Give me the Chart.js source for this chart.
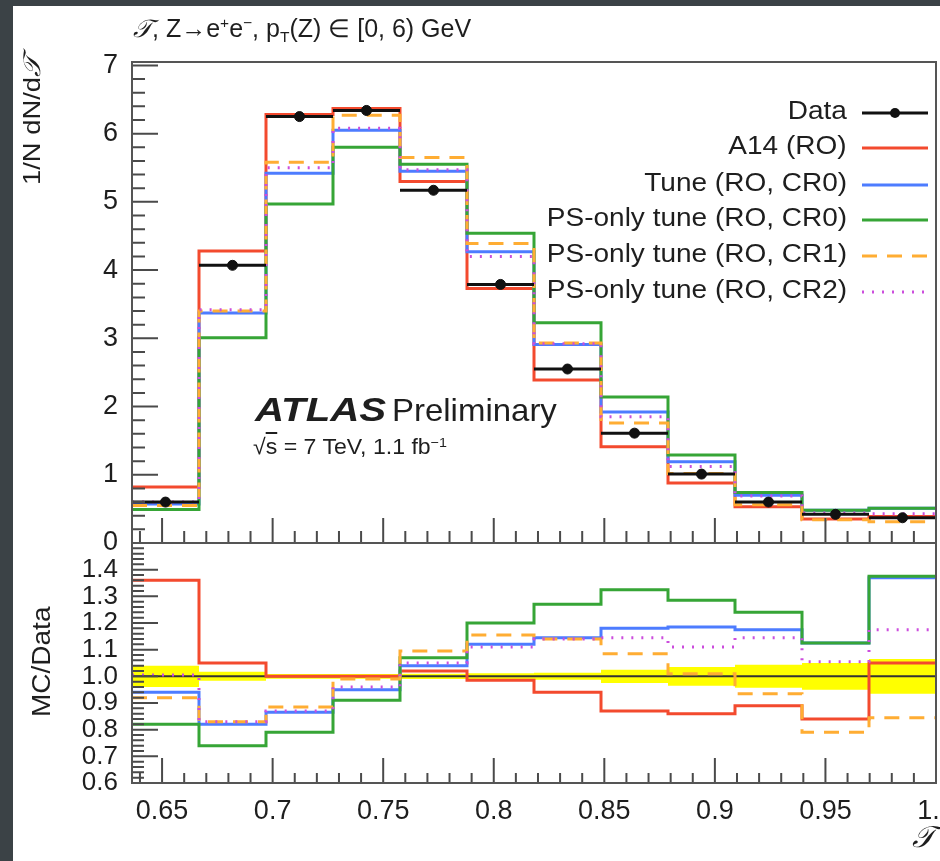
<!DOCTYPE html>
<html>
<head>
<meta charset="utf-8">
<script src="https://cdn.jsdelivr.net/npm/chart.js@4.4.1/dist/chart.umd.min.js"></script>
<style>
  body { margin: 0; width: 940px; height: 861px; overflow: hidden; position: relative; background: #3b4246;
         font-family: "Liberation Sans", Arial, Helvetica, sans-serif; color: #1e1e1e; }
  #paper { position: absolute; left: 13px; top: 6px; width: 927px; height: 855px; background: #fff; }
  canvas { position: absolute; left: 0; top: 0; }
  .txt { position: absolute; white-space: nowrap; line-height: 1; }
  .txt sup, .txt sub { font-size: 0.62em; position: relative; vertical-align: baseline; }
  .txt sup { top: -0.55em; }
  .txt sub { top: 0.3em; }
  .leg { position: absolute; right: 93px; font-size: 25px; line-height: 1; white-space: nowrap;
         transform: scaleX(1.12); transform-origin: right center; }
  .script { font-family: "DejaVu Serif", serif; font-style: italic; }
</style>
</head>
<body>
<div id="paper"></div>
<canvas id="top" width="940" height="861"></canvas>
<canvas id="bottom" width="940" height="861"></canvas>

<div class="txt" style="left:133px; top:16px; font-size:25px;">
  <span class="script">𝒯</span>, Z→e<sup>+</sup>e<sup>−</sup>, p<sub>T</sub>(Z) ∈ [0, 6) GeV
</div>
<div id="ytitle" class="txt" style="left:0px; top:0px; font-size:24px; transform-origin:0 0; transform:rotate(-90deg) scaleX(1.14);">
  1/N dN/d<span class="script">𝒯</span>
</div>
<div id="rtitle" class="txt" style="left:0px; top:0px; font-size:25px; transform-origin:0 0; transform:rotate(-90deg) scaleX(1.12);">
  MC/Data
</div>
<div class="txt script" style="left:912px; top:822px; font-size:30px;">𝒯</div>
<div class="txt" style="left:255px; top:393px; font-size:33px; transform:scaleX(1.22); transform-origin:left center;">
  <b><i>ATLAS</i></b>
</div>
<div class="txt" style="left:392px; top:394px; font-size:32px; transform:scaleX(1.03); transform-origin:left center;">Preliminary</div>
<div class="txt" style="left:253px; top:436px; font-size:22px; transform:scaleX(1.05); transform-origin:left center;">
  √<span style="text-decoration:overline;">s</span> = 7 TeV, 1.1 fb<sup>−1</sup>
</div>
<div id="legend"></div>

<script>
// --- binning (x = thrust-like variable T) ---
const binEdges = [0.6364, 0.6667, 0.6970, 0.7273, 0.7576, 0.7879, 0.8182, 0.8485, 0.8788, 0.9091, 0.9394, 0.9697, 1.0];
const xTickLabels = [0.65, 0.7, 0.75, 0.8, 0.85, 0.9, 0.95, 1.0];
const yTicksTop = [0, 1, 2, 3, 4, 5, 6, 7];
const yTicksRatio = [0.6, 0.7, 0.8, 0.9, 1.0, 1.1, 1.2, 1.3, 1.4];

const seriesNames = ["Data", "A14 (RO)", "Tune (RO, CR0)", "PS-only tune (RO, CR0)", "PS-only tune (RO, CR1)", "PS-only tune (RO, CR2)"];

// --- upper panel: 1/N dN/dT ---
const dataVals = [0.60, 4.07, 6.25, 6.34, 5.17, 3.79, 2.55, 1.61, 1.01, 0.60, 0.42, 0.37];
const dataErr  = [0.02, 0.05, 0.06, 0.07, 0.06, 0.05, 0.04, 0.03, 0.02, 0.02, 0.02, 0.02];
const a14      = [0.82, 4.28, 6.28, 6.37, 5.30, 3.73, 2.39, 1.41, 0.88, 0.53, 0.35, 0.39];
const tuneCR0  = [0.57, 3.37, 5.42, 6.05, 5.45, 4.27, 2.91, 1.92, 1.19, 0.70, 0.48, 0.51];
const psCR0    = [0.49, 3.01, 4.97, 5.80, 5.55, 4.54, 3.23, 2.14, 1.29, 0.74, 0.48, 0.51];
const psCR1    = [0.55, 3.40, 5.58, 6.27, 5.65, 4.39, 2.93, 1.76, 1.02, 0.56, 0.34, 0.31];
const psCR2    = [0.60, 3.42, 5.50, 6.08, 5.47, 4.20, 2.92, 1.85, 1.12, 0.69, 0.44, 0.43];

// --- lower panel: MC/Data ---
const ratioA14     = [1.36, 1.05, 1.00, 1.00, 1.02, 0.985, 0.94, 0.87, 0.86, 0.89, 0.84, 1.05];
const ratioTuneCR0 = [0.94, 0.82, 0.865, 0.95, 1.04, 1.12, 1.145, 1.18, 1.185, 1.175, 1.125, 1.37];
const ratioPsCR0   = [0.82, 0.74, 0.79, 0.91, 1.07, 1.20, 1.27, 1.325, 1.285, 1.24, 1.125, 1.375];
const ratioPsCR1   = [0.92, 0.83, 0.885, 0.99, 1.095, 1.155, 1.14, 1.085, 1.01, 0.935, 0.79, 0.845];
const ratioPsCR2   = [1.005, 0.83, 0.87, 0.96, 1.05, 1.11, 1.14, 1.145, 1.11, 1.145, 1.055, 1.175];
const dataRelErr   = [0.04, 0.017, 0.009, 0.009, 0.01, 0.012, 0.013, 0.025, 0.035, 0.043, 0.05, 0.065];

const colors = { data: "#111111", a14: "#f34a2e", tune: "#4d7cff", ps0: "#36a536", ps1: "#ffad33", ps2: "#cc4ddd" };
const FONT = "'Liberation Sans', Arial, sans-serif";

// histogram outline: two points per bin
function steps(vals) {
  const pts = [];
  vals.forEach((v, i) => {
    pts.push({ x: binEdges[i], y: v });
    pts.push({ x: binEdges[i + 1], y: v });
  });
  return pts;
}
// data bars: horizontal bin-width bar + vertical error, separated by gaps
function dataBars(vals, errs) {
  const pts = [];
  vals.forEach((v, i) => {
    const c = (binEdges[i] + binEdges[i + 1]) / 2;
    pts.push({ x: binEdges[i], y: v }, { x: binEdges[i + 1], y: v }, { x: c, y: null });
    pts.push({ x: c, y: v - errs[i] }, { x: c, y: v + errs[i] }, { x: c, y: null });
  });
  return pts;
}
const centers = dataVals.map((v, i) => ({ x: (binEdges[i] + binEdges[i + 1]) / 2, y: v }));

function histo(label, vals, color, dash) {
  return { type: "line", label, data: steps(vals), borderColor: color, borderWidth: 3,
           borderDash: dash || [], pointRadius: 0, fill: false, tension: 0 };
}
function range(a, b, step) {
  const out = [];
  for (let v = a; v <= b + 1e-9; v += step) out.push(+v.toFixed(4));
  return out;
}

// ROOT-like frame with inward ticks
const rootFrame = {
  id: "rootFrame",
  afterDatasetsDraw(chart, args, o) {
    const { ctx, chartArea: a, scales: { x, y } } = chart;
    ctx.save();
    ctx.strokeStyle = "#4a4a4a";
    ctx.lineWidth = 2;
    ctx.beginPath();
    o.xMinor.forEach(v => { const px = x.getPixelForValue(v); if (px > a.left + 1 && px < a.right - 1) { ctx.moveTo(px, a.bottom); ctx.lineTo(px, a.bottom - o.xMinorLen); } });
    o.xMajor.forEach(v => { const px = x.getPixelForValue(v); if (px > a.left + 1 && px < a.right - 1) { ctx.moveTo(px, a.bottom); ctx.lineTo(px, a.bottom - o.xMajorLen); } });
    o.yMinor.forEach(v => { const py = y.getPixelForValue(v); if (py >= a.top - 1 && py <= a.bottom + 1) { ctx.moveTo(a.left, py); ctx.lineTo(a.left + o.yMinorLen, py); } });
    o.yMajor.forEach(v => { const py = y.getPixelForValue(v); ctx.moveTo(a.left, py); ctx.lineTo(a.left + o.yMajorLen, py); });
    ctx.stroke();
    ctx.strokeStyle = "#555";
    ctx.strokeRect(a.left, a.top, a.right - a.left, a.bottom - a.top);
    ctx.restore();
  }
};

// legend line samples (drawn from the datasets' own styles)
const legendRows = [113, 148, 185, 220, 256, 292];
const legendSamples = {
  id: "legendSamples",
  afterDraw(chart) {
    const ctx = chart.ctx;
    const ds = chart.data.datasets;
    seriesNames.forEach((name, i) => {
      const y = legendRows[i];
      ctx.save();
      if (i === 0) {
        ctx.strokeStyle = colors.data; ctx.lineWidth = 3;
        ctx.beginPath(); ctx.moveTo(862, y); ctx.lineTo(928, y); ctx.stroke();
        ctx.fillStyle = colors.data; ctx.beginPath(); ctx.arc(895, y, 5, 0, Math.PI * 2); ctx.fill();
      } else {
        const d = ds.find(s => s.label === name);
        ctx.strokeStyle = d.borderColor; ctx.lineWidth = d.borderWidth;
        ctx.setLineDash(d.borderDash);
        ctx.beginPath(); ctx.moveTo(862, y); ctx.lineTo(928, y); ctx.stroke();
      }
      ctx.restore();
    });
  }
};

// legend labels as real text
const legendBox = document.getElementById("legend");
seriesNames.forEach((name, i) => {
  const el = document.createElement("div");
  el.className = "leg";
  el.style.top = (legendRows[i] - 15) + "px";
  el.textContent = name;
  legendBox.appendChild(el);
});

// move a (possibly rotated) text box so its bounding box lands where wanted
function place(el, want) {
  const r = el.getBoundingClientRect();
  let dx = 0, dy = 0;
  if (want.top != null) dy = want.top - r.top;
  if (want.cy != null) dy = want.cy - (r.top + r.bottom) / 2;
  if (want.cx != null) dx = want.cx - (r.left + r.right) / 2;
  el.style.left = (parseFloat(el.style.left) + dx) + "px";
  el.style.top = (parseFloat(el.style.top) + dy) + "px";
}
place(document.getElementById("ytitle"), { top: 57, cx: 32 });
place(document.getElementById("rtitle"), { cy: 662, cx: 41 });

Chart.defaults.font.family = FONT;
Chart.defaults.color = "#1e1e1e";
Chart.defaults.animation = false;

const xScaleBase = { type: "linear", min: binEdges[0], max: binEdges[binEdges.length - 1] };
const noPad = s => { s.paddingLeft = 0; s.paddingRight = 0; s.paddingTop = 0; s.paddingBottom = 0; };

// --- upper chart ---
new Chart(document.getElementById("top"), {
  type: "line",
  data: {
    datasets: [
      { type: "scatter", label: "Data points", data: centers, backgroundColor: colors.data, borderColor: colors.data, pointRadius: 5, showLine: false },
      { type: "line", label: "Data bars", data: dataBars(dataVals, dataErr), borderColor: colors.data, borderWidth: 3, pointRadius: 0, spanGaps: false },
      histo(seriesNames[5], psCR2, colors.ps2, [2, 8]),
      histo(seriesNames[4], psCR1, colors.ps1, [15, 10]),
      histo(seriesNames[3], psCR0, colors.ps0),
      histo(seriesNames[2], tuneCR0, colors.tune),
      histo(seriesNames[1], a14, colors.a14)
    ]
  },
  options: {
    responsive: false,
    devicePixelRatio: 1,
    layout: { autoPadding: false, padding: { left: 0, top: 62, right: 4, bottom: 318 } },
    plugins: {
      legend: { display: false }, tooltip: { enabled: false },
      rootFrame: { xMajor: xTickLabels, xMinor: range(0.64, 1.0, 0.01), xMajorLen: 25, xMinorLen: 12,
                   yMajor: yTicksTop, yMinor: range(0, 7, 0.2), yMajorLen: 26, yMinorLen: 13 }
    },
    scales: {
      x: Object.assign({}, xScaleBase, { display: false }),
      y: {
        min: 0, max: 7.05,
        afterBuildTicks: s => { s.ticks = yTicksTop.map(v => ({ value: v })); },
        afterFit: s => { s.width = 132; noPad(s); },
        grid: { display: false, drawTicks: false },
        border: { display: false },
        ticks: { font: { size: 27 }, color: "#1e1e1e", padding: 14, autoSkip: false, callback: v => String(v) }
      }
    }
  },
  plugins: [rootFrame, legendSamples]
});

// --- lower chart (ratio) ---
new Chart(document.getElementById("bottom"), {
  type: "line",
  data: {
    datasets: [
      histo(seriesNames[5], ratioPsCR2, colors.ps2, [2, 8]),
      histo(seriesNames[4], ratioPsCR1, colors.ps1, [15, 10]),
      histo(seriesNames[3], ratioPsCR0, colors.ps0),
      histo(seriesNames[2], ratioTuneCR0, colors.tune),
      histo(seriesNames[1], ratioA14, colors.a14),
      { type: "line", label: "unity", data: [{ x: binEdges[0], y: 1 }, { x: binEdges[12], y: 1 }], borderColor: "#333", borderWidth: 2, pointRadius: 0 },
      { type: "line", label: "band hi", data: steps(dataRelErr.map(e => 1 + e)), borderWidth: 0, pointRadius: 0, fill: "+1", backgroundColor: "#ffff00" },
      { type: "line", label: "band lo", data: steps(dataRelErr.map(e => 1 - e)), borderWidth: 0, pointRadius: 0, fill: false }
    ]
  },
  options: {
    responsive: false,
    devicePixelRatio: 1,
    layout: { autoPadding: false, padding: { left: 0, top: 543, right: 4, bottom: 28 } },
    plugins: {
      legend: { display: false }, tooltip: { enabled: false },
      rootFrame: { xMajor: xTickLabels, xMinor: range(0.64, 1.0, 0.01), xMajorLen: 25, xMinorLen: 10,
                   yMajor: yTicksRatio, yMinor: range(0.6, 1.5, 0.02), yMajorLen: 26, yMinorLen: 12 }
    },
    scales: {
      x: Object.assign({}, xScaleBase, {
        afterBuildTicks: s => { s.ticks = xTickLabels.map(v => ({ value: v })); },
        afterFit: s => { s.height = 50; noPad(s); },
        grid: { display: false, drawTicks: false },
        border: { display: false },
        ticks: { font: { size: 27 }, color: "#1e1e1e", padding: 12, maxRotation: 0, autoSkip: false,
                 callback: v => (v === 1 ? "1.0" : String(v)) }
      }),
      y: {
        min: 0.6, max: 1.5,
        afterBuildTicks: s => { s.ticks = yTicksRatio.map(v => ({ value: v })); },
        afterFit: s => { s.width = 132; noPad(s); },
        grid: { display: false, drawTicks: false },
        border: { display: false },
        ticks: { font: { size: 26 }, color: "#1e1e1e", padding: 14, autoSkip: false, callback: v => v.toFixed(1) }
      }
    }
  },
  plugins: [rootFrame]
});
</script>
</body>
</html>
